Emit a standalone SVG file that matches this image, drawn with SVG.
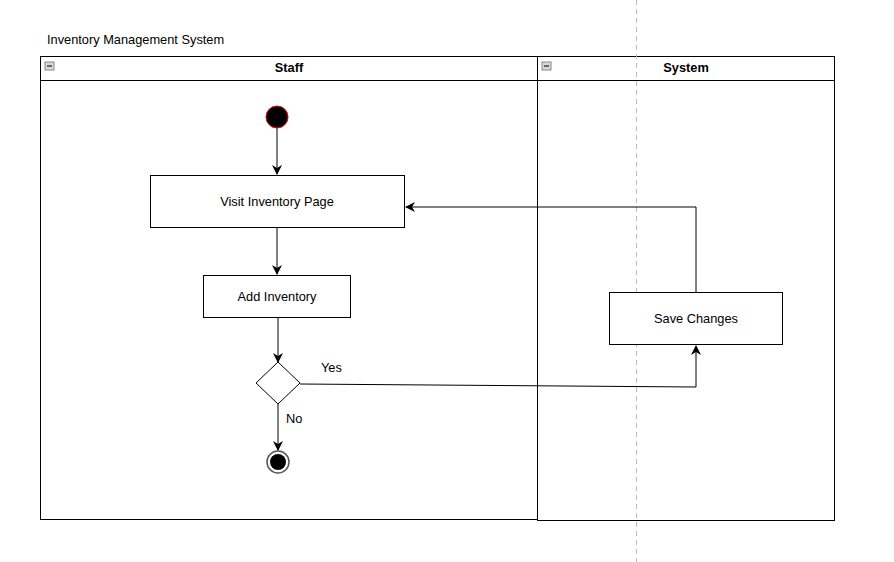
<svg xmlns="http://www.w3.org/2000/svg" width="894" height="562" viewBox="0 0 894 562">
<style>
text{font-family:"Liberation Sans",Arial,sans-serif;font-size:12.8px;fill:#000}
.hdr{font-weight:bold;text-anchor:middle}
.lane{fill:none;stroke:#000;stroke-width:1}
.node{fill:#fff;stroke:#000;stroke-width:1}
.edge{fill:none;stroke:#000;stroke-width:1}
.lbl{text-anchor:middle}
</style>
<defs>
<marker id="arr" viewBox="0 0 10 10" refX="9" refY="5" markerWidth="10" markerHeight="10" markerUnits="userSpaceOnUse" orient="auto">
<path d="M0,0 L10,5 L0,10 L3,5 Z" fill="#000"/>
</marker>
<g id="icon"><rect x="0" y="0" width="9" height="8" fill="#d8d8d8" stroke="#888" stroke-width="1"/><line x1="2" y1="4" x2="7" y2="4" stroke="#444" stroke-width="1.5"/></g>
</defs>
<rect width="894" height="562" fill="#fff"/>
<text x="47" y="44">Inventory Management System</text>
<g id="lane-staff">
<rect class="lane" x="40.5" y="56.5" width="497" height="463"/>
<line class="lane" x1="40.5" y1="80.5" x2="537.5" y2="80.5"/>
<use href="#icon" x="45" y="62"/>
<text class="hdr" x="289" y="72">Staff</text>
</g>
<g id="lane-system">
<rect class="lane" x="537.5" y="56.5" width="297" height="464"/>
<line class="lane" x1="537.5" y1="80.5" x2="834.5" y2="80.5"/>
<use href="#icon" x="542" y="62"/>
<text class="hdr" x="686" y="72">System</text>
</g>
<line x1="636.5" y1="0" x2="636.5" y2="562" stroke="#bbb" stroke-width="1" stroke-dasharray="5 4"/>
<g id="edges">
<line class="edge" x1="277" y1="128" x2="277" y2="174" marker-end="url(#arr)"/>
<line class="edge" x1="277" y1="228" x2="277" y2="274" marker-end="url(#arr)"/>
<line class="edge" x1="278" y1="318" x2="278" y2="362" marker-end="url(#arr)"/>
<line class="edge" x1="278" y1="404" x2="278" y2="450" marker-end="url(#arr)"/>
<polyline class="edge" points="300,384 696,387 696,346" marker-end="url(#arr)"/>
<polyline class="edge" points="696,292 696,207 406,207" marker-end="url(#arr)"/>
<text x="321" y="372">Yes</text>
<text x="286" y="423">No</text>
</g>
<g id="start"><circle cx="277" cy="117" r="11" fill="#000" stroke="#e00" stroke-width="1"/></g>
<g id="visit"><rect class="node" x="150.5" y="175.5" width="254" height="52"/><text class="lbl" x="277" y="206">Visit Inventory Page</text></g>
<g id="add"><rect class="node" x="203.5" y="275.5" width="147" height="42"/><text class="lbl" x="277" y="301">Add Inventory</text></g>
<g id="decision"><polygon class="node" points="278,362 300,383 278,404 256,383"/></g>
<g id="end"><circle cx="278" cy="462" r="11" fill="#fff" stroke="#555" stroke-width="1.5"/><circle cx="278" cy="462" r="8" fill="#000"/></g>
<g id="save"><rect class="node" x="609.5" y="292.5" width="173" height="52"/><text class="lbl" x="696" y="323">Save Changes</text></g>
</svg>
